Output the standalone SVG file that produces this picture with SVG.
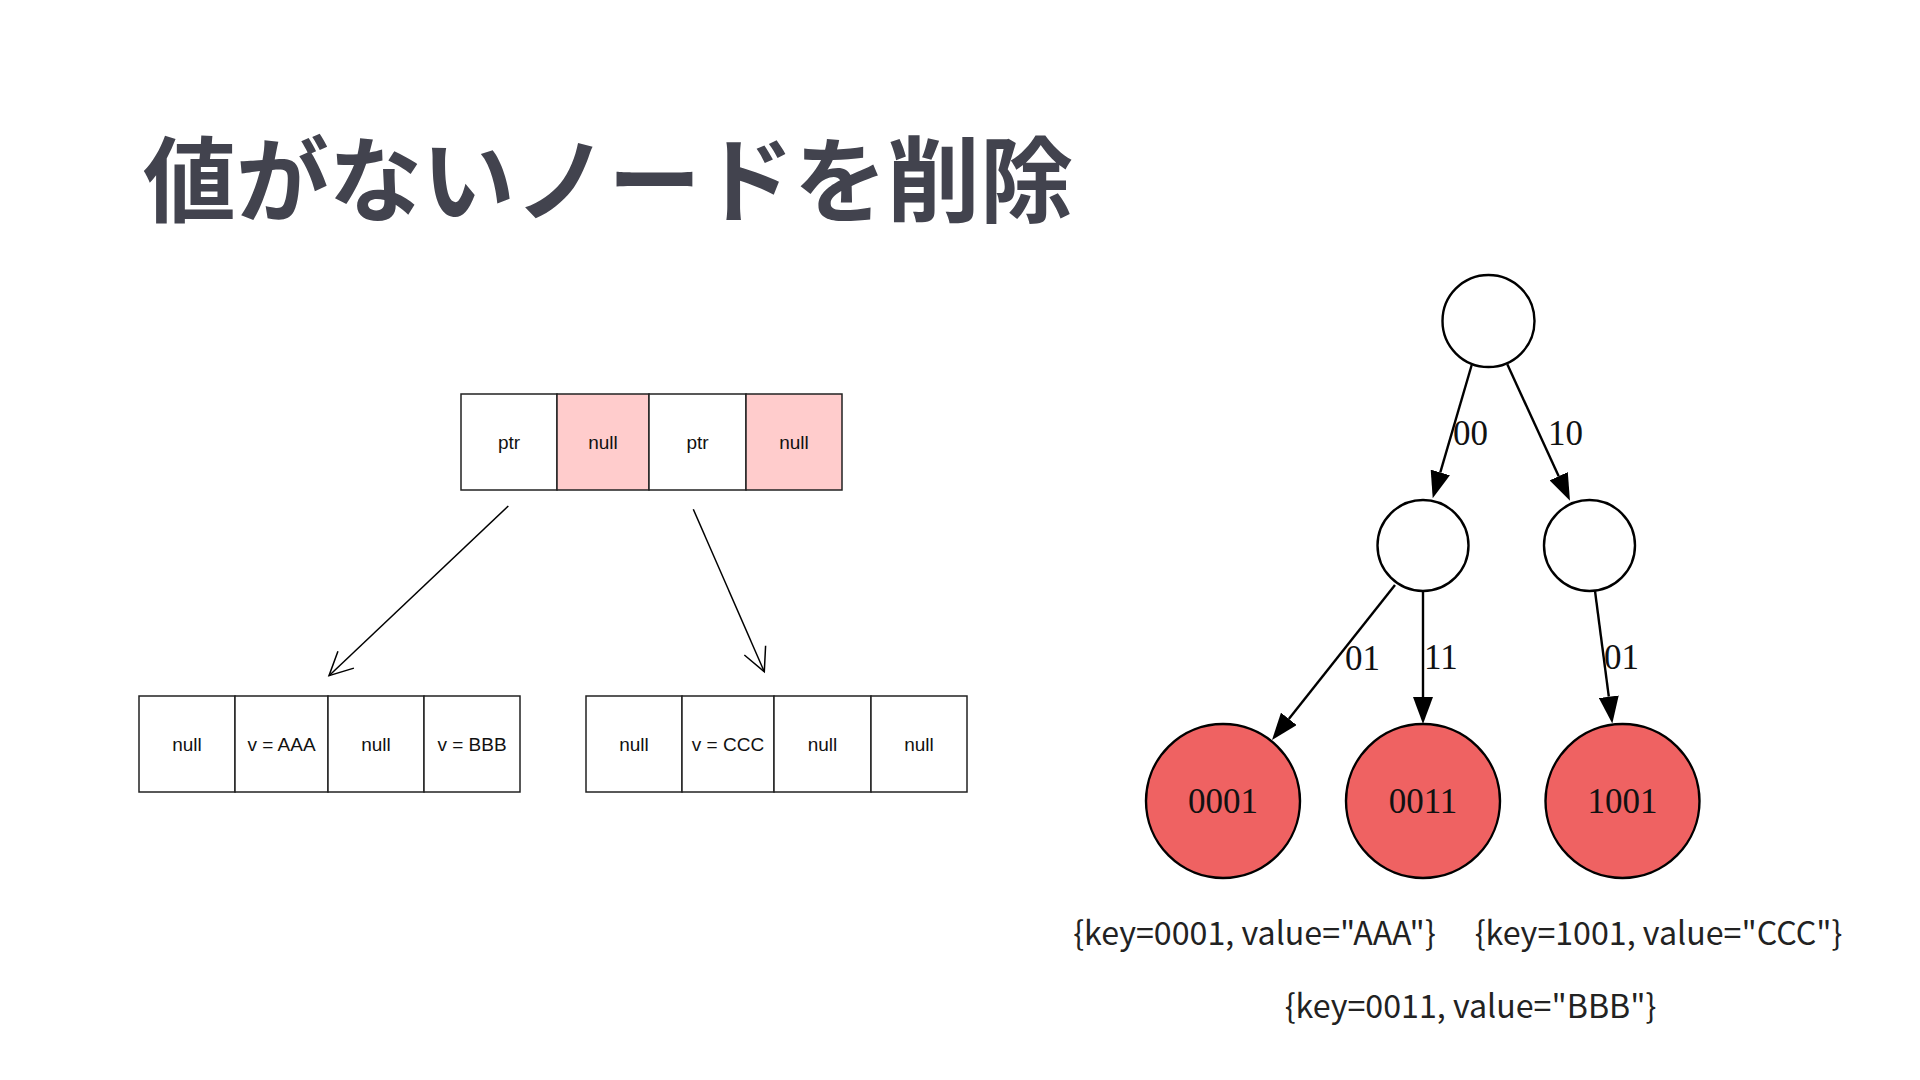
<svg xmlns="http://www.w3.org/2000/svg" width="1920" height="1080" viewBox="0 0 1920 1080">
<defs>
<style>
.title{font-family:"Noto Sans CJK JP","Noto Sans",sans-serif;font-weight:700;font-size:93px;fill:#42434e}
.cell{stroke:#222;stroke-width:1.5;fill:#fff}
.pink{fill:#ffcccc}
.ct{font-family:"Liberation Sans",Arial,sans-serif;font-size:19px;fill:#111;text-anchor:middle}
.node{fill:#fff;stroke:#000;stroke-width:2.4}
.leaf{fill:#ef6262;stroke:#000;stroke-width:2.4}
.nt{font-family:"Liberation Serif","Times New Roman",serif;font-size:35px;fill:#111;text-anchor:middle}
.el{font-family:"Liberation Serif","Times New Roman",serif;font-size:35px;fill:#111}
.edge{stroke:#000;stroke-width:2.4;fill:none}
.ptr{stroke:#000;stroke-width:1.5;fill:none}
.kv{font-family:"Noto Sans CJK JP","Noto Sans",sans-serif;font-size:32.2px;fill:#222;text-anchor:middle}
</style>
<marker id="tri" viewBox="0 0 27 20" refX="0" refY="10" markerWidth="27" markerHeight="20" markerUnits="userSpaceOnUse" orient="auto">
<path d="M0,0 L27,10 L0,20 Z" fill="#000"/>
</marker>
<marker id="open" viewBox="-26 -14 28 28" refX="0" refY="0" markerWidth="28" markerHeight="28" markerUnits="userSpaceOnUse" orient="auto">
<path d="M-23.3,-11.6 L0,0 L-23.3,11.6" fill="none" stroke="#000" stroke-width="1.5"/>
</marker>
</defs>
<rect width="1920" height="1080" fill="#fff"/>
<text class="title" x="143" y="215">値がないノードを削除</text>

<g id="array-top">
<rect class="cell" x="461" y="394" width="96" height="96"/>
<rect class="cell pink" x="557" y="394" width="92" height="96"/>
<rect class="cell" x="649" y="394" width="97" height="96"/>
<rect class="cell pink" x="746" y="394" width="96" height="96"/>
<text class="ct" x="509" y="449">ptr</text>
<text class="ct" x="603" y="449">null</text>
<text class="ct" x="697.5" y="449">ptr</text>
<text class="ct" x="794" y="449">null</text>
</g>
<g id="array-left">
<rect class="cell" x="139" y="696" width="96" height="96"/>
<rect class="cell" x="235" y="696" width="93" height="96"/>
<rect class="cell" x="328" y="696" width="96" height="96"/>
<rect class="cell" x="424" y="696" width="96" height="96"/>
<text class="ct" x="187" y="751">null</text>
<text class="ct" x="281.5" y="751">v = AAA</text>
<text class="ct" x="376" y="751">null</text>
<text class="ct" x="472" y="751">v = BBB</text>
</g>
<g id="array-right">
<rect class="cell" x="586" y="696" width="96" height="96"/>
<rect class="cell" x="682" y="696" width="92" height="96"/>
<rect class="cell" x="774" y="696" width="97" height="96"/>
<rect class="cell" x="871" y="696" width="96" height="96"/>
<text class="ct" x="634" y="751">null</text>
<text class="ct" x="728" y="751">v = CCC</text>
<text class="ct" x="822.5" y="751">null</text>
<text class="ct" x="919" y="751">null</text>
</g>

<g id="n-root"><circle class="node" cx="1488.5" cy="321" r="46"/></g>
<g id="n-00"><circle class="node" cx="1423" cy="545.5" r="45.5"/></g>
<g id="n-10"><circle class="node" cx="1589.5" cy="545.5" r="45.5"/></g>
<g id="n-0001"><circle class="leaf" cx="1223" cy="801" r="77"/><text class="nt" x="1223" y="813">0001</text></g>
<g id="n-0011"><circle class="leaf" cx="1423" cy="801" r="77"/><text class="nt" x="1423" y="813">0011</text></g>
<g id="n-1001"><circle class="leaf" cx="1622.5" cy="801" r="77"/><text class="nt" x="1622.5" y="813">1001</text></g>

<g id="connectors">
<line class="ptr" x1="508.3" y1="506" x2="329" y2="675.7" marker-end="url(#open)"/>
<line class="ptr" x1="693.3" y1="509.3" x2="764.3" y2="671.7" marker-end="url(#open)"/>
<line class="edge" x1="1471.7" y1="365" x2="1440.3" y2="472.4" marker-end="url(#tri)"/>
<line class="edge" x1="1507.3" y1="364.3" x2="1558.7" y2="476.2" marker-end="url(#tri)"/>
<line class="edge" x1="1395" y1="585" x2="1288.8" y2="718.9" marker-end="url(#tri)"/>
<line class="edge" x1="1423" y1="591" x2="1423" y2="697" marker-end="url(#tri)"/>
<line class="edge" x1="1595" y1="591" x2="1608.8" y2="696.7" marker-end="url(#tri)"/>
<text class="el" x="1453" y="445">00</text>
<text class="el" x="1548" y="445">10</text>
<text class="el" x="1345" y="670">01</text>
<text class="el" x="1424" y="669">11</text>
<text class="el" x="1604" y="669">01</text>
</g>

<text class="kv" x="1254.5" y="945">{key=0001, value="AAA"}</text>
<text class="kv" x="1658.5" y="945">{key=1001, value="CCC"}</text>
<text class="kv" x="1470.5" y="1018">{key=0011, value="BBB"}</text>
</svg>
